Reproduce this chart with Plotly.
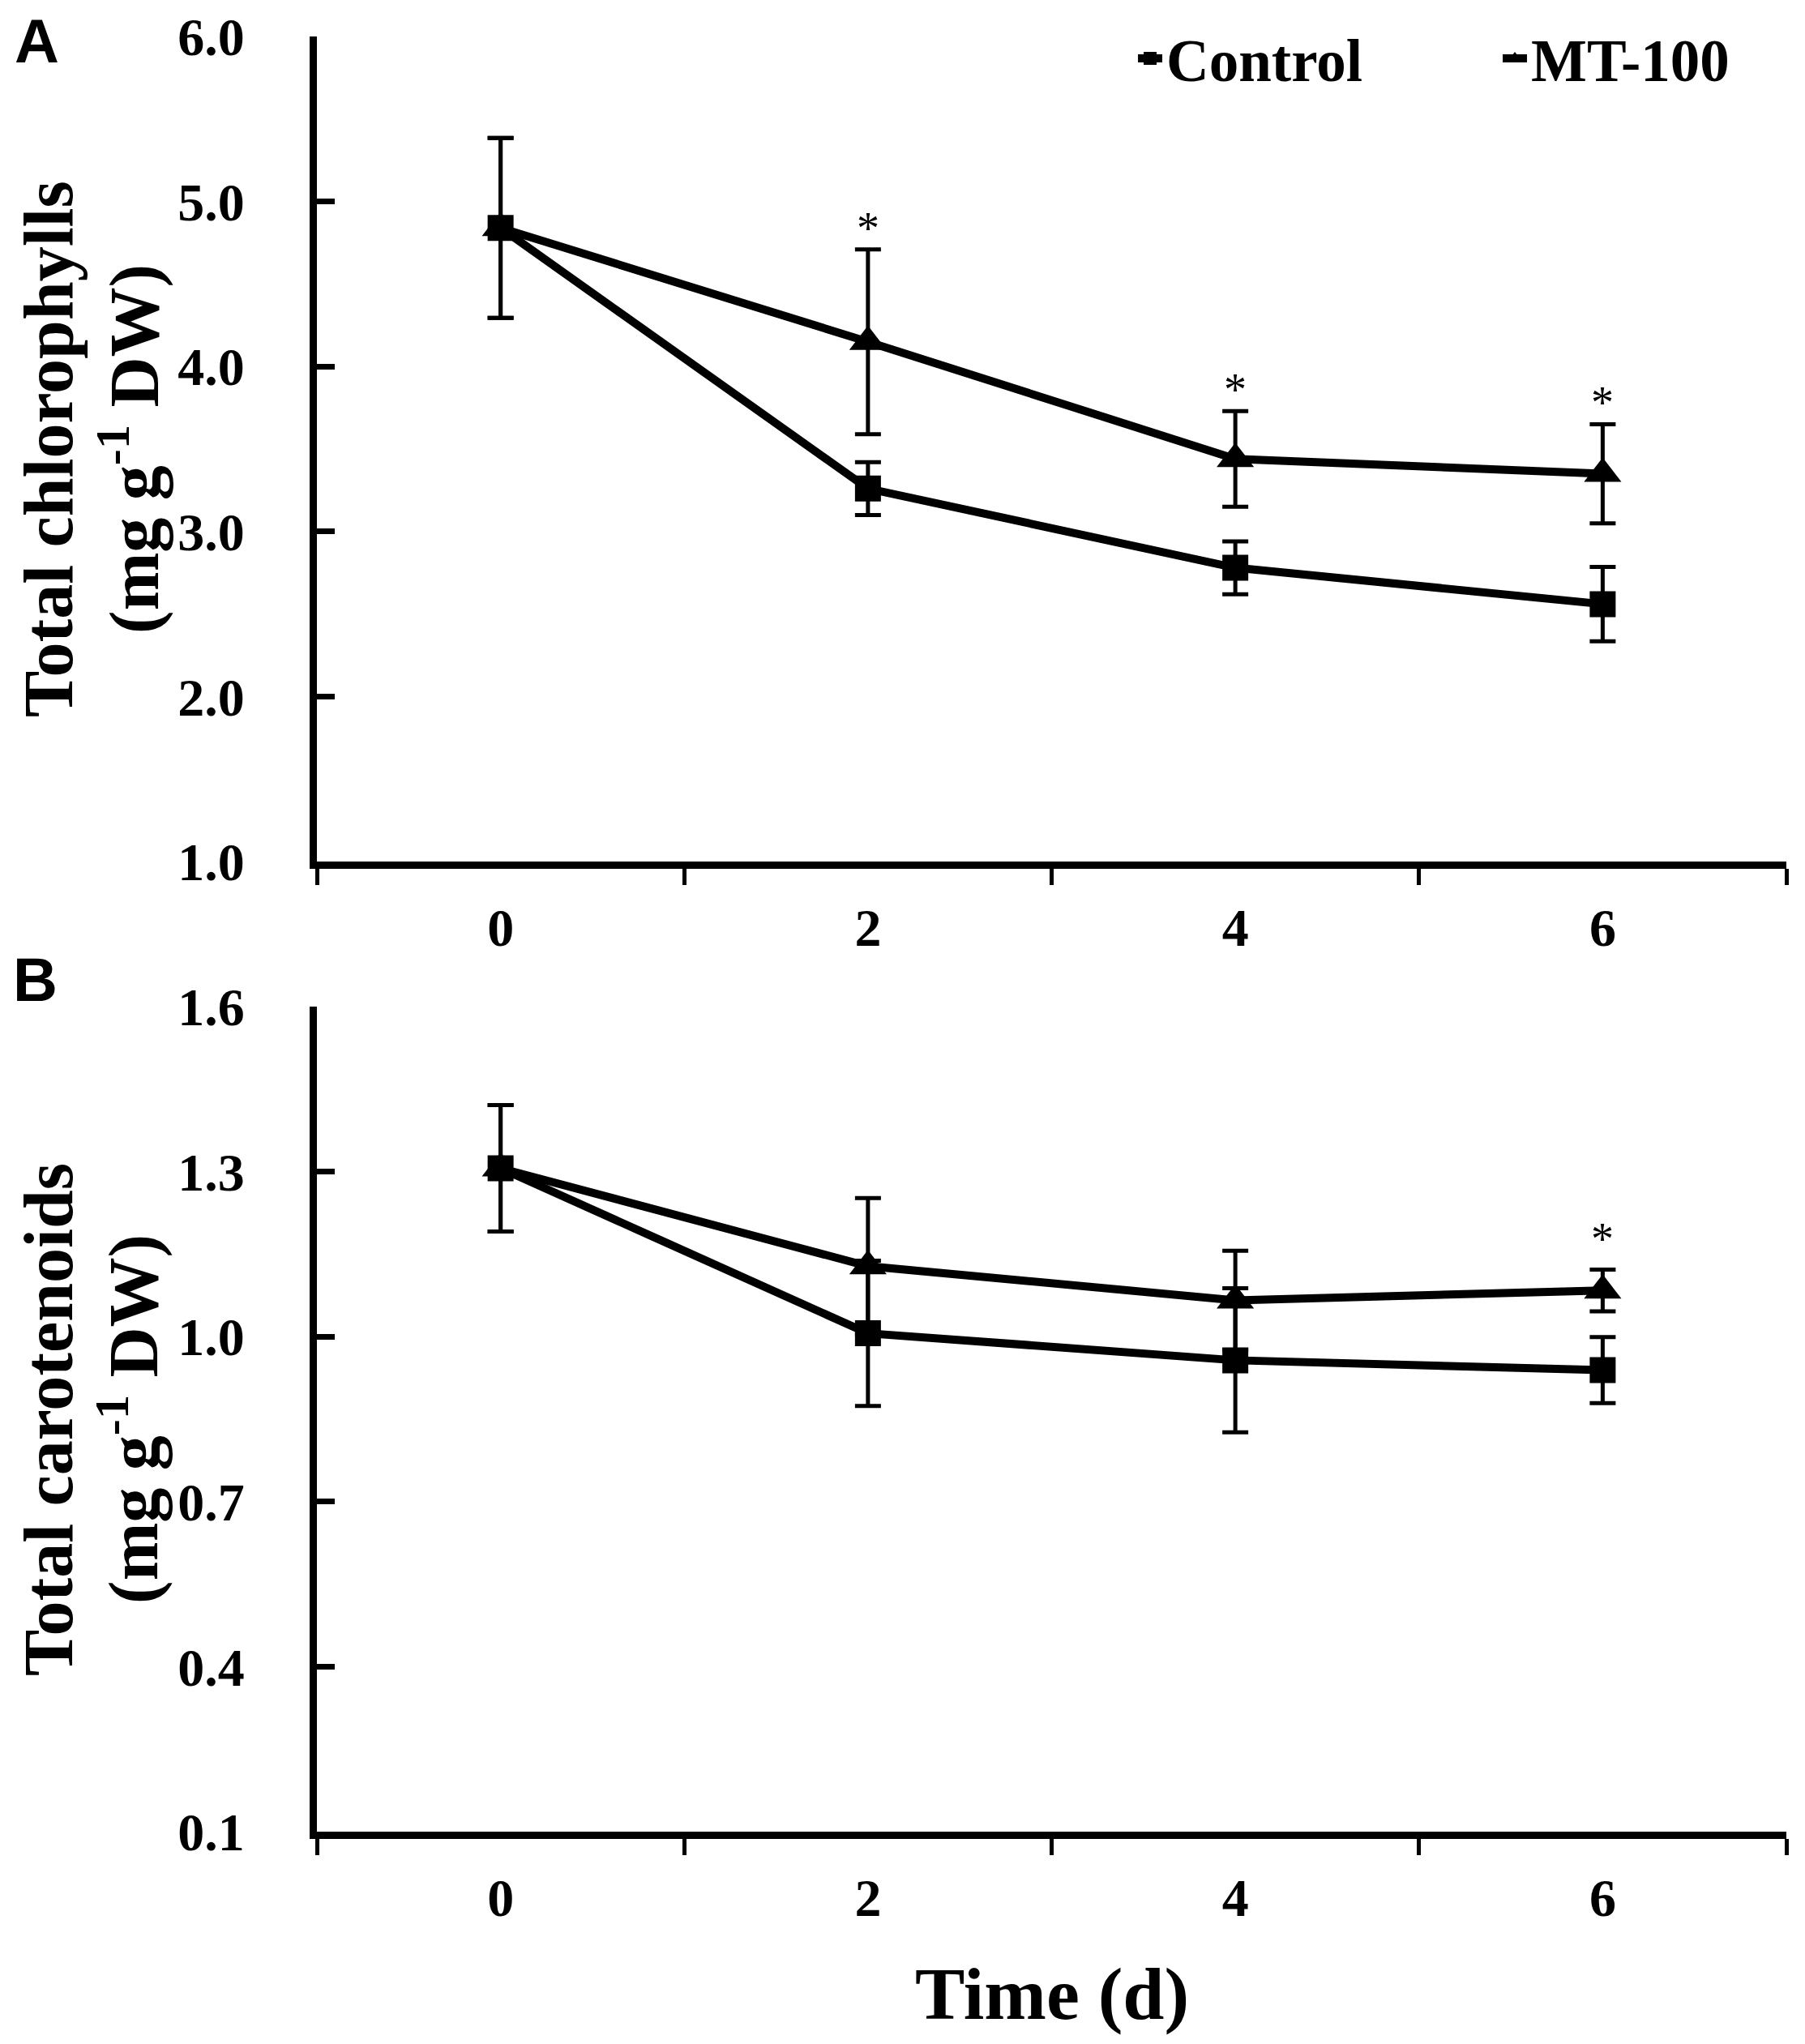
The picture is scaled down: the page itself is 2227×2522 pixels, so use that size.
import plotly.graph_objects as go

days = [0, 2, 4, 6]

# Panel A: total chlorophylls (mg g-1 DW)
chl_control = [4.84, 3.26, 2.78, 2.56]
chl_control_err = [0.545, 0.16, 0.16, 0.225]
chl_mt = [4.84, 4.15, 3.44, 3.35]
chl_mt_err = [0.545, 0.56, 0.29, 0.30]
chl_star_days = [2, 4, 6]

# Panel B: total carotenoids (mg g-1 DW)
car_control = [1.306, 1.006, 0.957, 0.939]
car_control_err = [0.115, 0.132, 0.131, 0.06]
car_mt = [1.306, 1.128, 1.066, 1.084]
car_mt_err = [0.115, 0.124, 0.09, 0.038]
car_star_days = [6]

x_tick_vals = [0, 2, 4, 6]
x_tick_text = ["0", "2", "4", "6"]
x_minor_ticks = [-1, 1, 3, 5, 7]
chl_tick_vals = [1, 2, 3, 4, 5, 6]
chl_tick_text = ["1.0", "2.0", "3.0", "4.0", "5.0", "6.0"]
car_tick_vals = [0.1, 0.4, 0.7, 1.0, 1.3, 1.6]
car_tick_text = ["0.1", "0.4", "0.7", "1.0", "1.3", "1.6"]

SERIF = "Liberation Serif"
SANS = "Liberation Sans"
BLACK = "#000000"

fig = go.Figure()


def add_series(x, y, err, name, symbol, size, xa, ya, show):
    fig.add_trace(go.Scatter(
        x=x, y=y, name=name, mode="lines+markers",
        xaxis=xa, yaxis=ya, showlegend=show,
        legendrank=1 if name == "Control" else 2,
        line=dict(color=BLACK, width=10),
        marker=dict(symbol=symbol, size=size, color=BLACK),
        error_y=dict(type="data", array=err, visible=True,
                     color=BLACK, thickness=5, width=16),
    ))


add_series(days, chl_mt, chl_mt_err, "MT-100", "triangle-up", 40, "x", "y", True)
add_series(days, chl_control, chl_control_err, "Control", "square", 32, "x", "y", True)
add_series(days, car_mt, car_mt_err, "MT-100", "triangle-up", 40, "x2", "y2", False)
add_series(days, car_control, car_control_err, "Control", "square", 32, "x2", "y2", False)

annotations = []
for d in chl_star_days:
    i = days.index(d)
    annotations.append(dict(x=d, y=chl_mt[i] + chl_mt_err[i], xref="x", yref="y",
                            text="*", showarrow=False, yanchor="middle", yshift=26,
                            font=dict(family=SERIF, size=56, color=BLACK)))
for d in car_star_days:
    i = days.index(d)
    annotations.append(dict(x=d, y=car_mt[i] + car_mt_err[i], xref="x2", yref="y2",
                            text="*", showarrow=False, yanchor="middle", yshift=37,
                            font=dict(family=SERIF, size=56, color=BLACK)))

title_font = dict(family=SERIF, size=86, color=BLACK)
# y-axis titles (two lines each)
for yc, line1 in [(0.7702, "Total chlorophylls"), (0.2298, "Total carotenoids")]:
    annotations.append(dict(x=-0.1826, y=yc, xref="paper", yref="paper",
                            text="<b>" + line1 + "</b>",
                            textangle=-90, showarrow=False, xanchor="center", yanchor="middle",
                            font=title_font))
    annotations.append(dict(x=-0.1280, y=yc, xref="paper", yref="paper",
                            text="<b>(mg g<sup>-1</sup> DW)</b>",
                            textangle=-90, showarrow=False, xanchor="center", yanchor="middle",
                            font=title_font))
# x-axis title
annotations.append(dict(x=0.5, y=-0.0903, xref="paper", yref="paper",
                        text="<b>Time (d)</b>", showarrow=False,
                        xanchor="center", yanchor="middle",
                        font=dict(family=SERIF, size=92, color=BLACK)))
# panel letters
annotations.append(dict(x=-0.1903, y=0.99774, xref="paper", yref="paper",
                        text="<b>A</b>", showarrow=False, xanchor="center", yanchor="middle",
                        font=dict(family=SANS, size=76, color=BLACK)))
annotations.append(dict(x=-0.1914, y=0.4745, xref="paper", yref="paper",
                        text="<b>B</b>", showarrow=False, xanchor="center", yanchor="middle",
                        font=dict(family=SANS, size=76, color=BLACK)))

tick_font = dict(family=SERIF, size=66, color=BLACK, weight="bold")

xaxis_common = dict(
    range=[-1, 7], tickmode="array", tickvals=x_tick_vals, ticktext=x_tick_text,
    ticks="outside", ticklen=0, showgrid=False, zeroline=False,
    showline=True, linecolor=BLACK, linewidth=9,
    tickfont=tick_font, ticklabelstandoff=16,
    minor=dict(tickmode="array", tickvals=x_minor_ticks, ticks="outside",
               ticklen=20, tickwidth=5, tickcolor=BLACK, showgrid=False),
)
yaxis_common = dict(
    tickmode="array", ticks="inside", ticklen=22, tickwidth=7, tickcolor=BLACK,
    showgrid=False, zeroline=False, showline=True, linecolor=BLACK, linewidth=9,
    tickfont=tick_font, ticklabelstandoff=67,
)

fig.update_layout(
    width=2227, height=2522,
    margin=dict(l=383, r=31, t=37, b=270, autoexpand=False),
    paper_bgcolor="white", plot_bgcolor="white",
    xaxis=dict(domain=[0, 1], anchor="y", **xaxis_common),
    yaxis=dict(domain=[0.5404, 1], anchor="x", range=[1, 6],
               tickvals=chl_tick_vals, ticktext=chl_tick_text, **yaxis_common),
    xaxis2=dict(domain=[0, 1], anchor="y2", **xaxis_common),
    yaxis2=dict(domain=[0, 0.4596], anchor="x2", range=[0.1, 1.6],
                tickvals=car_tick_vals, ticktext=car_tick_text, **yaxis_common),
    legend=dict(orientation="h", x=0.556, xanchor="left", y=0.9878, yanchor="middle",
                font=dict(family=SERIF, size=73, color=BLACK, weight="bold"),
                bgcolor="rgba(0,0,0,0)", entrywidth=405, entrywidthmode="pixels",
                traceorder="normal"),
    annotations=annotations,
    showlegend=True,
)

fig.write_html("out.html")
